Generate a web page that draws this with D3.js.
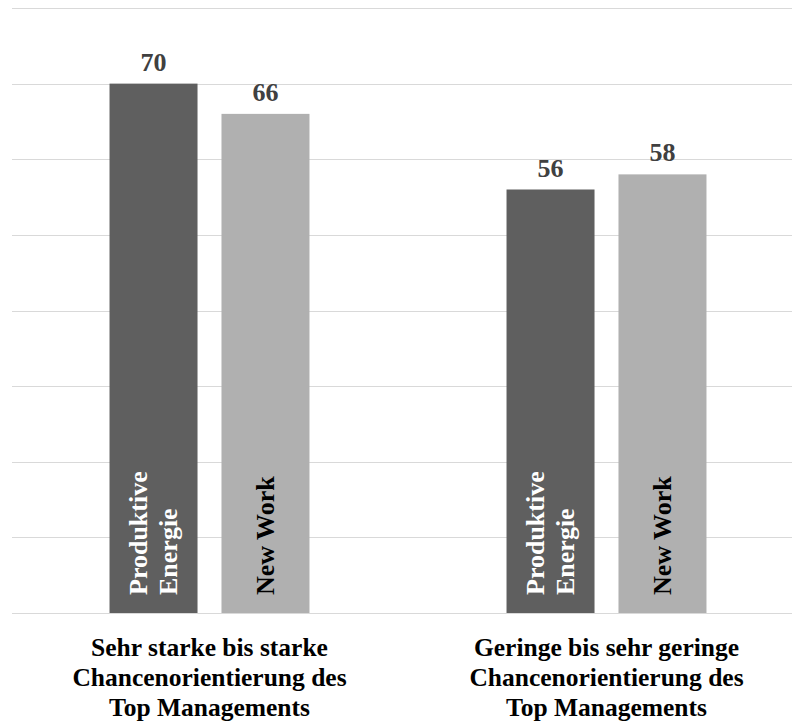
<!DOCTYPE html>
<html>
<head>
<meta charset="utf-8">
<title>Chancenorientierung</title>
<script src="https://cdn.jsdelivr.net/npm/d3@7"></script>
<style>
body { margin: 0; background: #fff; }
</style>
</head>
<body>
<svg id="chart" width="792" height="722"></svg>
<script>
// data
var categories = [
  ['Sehr starke bis starke', 'Chancenorientierung des', 'Top Managements'],
  ['Geringe bis sehr geringe', 'Chancenorientierung des', 'Top Managements']
];
var seriesNames = ['Produktive Energie', 'New Work'];
var seriesLabels = [['Produktive', 'Energie'], ['New Work']];
var produktiveEnergie = [70, 56];
var newWork = [66, 58];
var yTicks = [0, 10, 20, 30, 40, 50, 60, 70, 80];

var seriesValues = [produktiveEnergie, newWork];
var colors = ['#5f5f5f', '#b0b0b0'];
var innerColors = ['#ffffff', '#000000'];
var FONT = '"Liberation Serif", "Times New Roman", Tinos, serif';

var svg = d3.select('#chart');

var x0 = d3.scaleBand().domain(d3.range(categories.length)).range([11, 805]);
var x1 = d3.scaleBand().domain(d3.range(seriesNames.length))
  .range([0, x0.bandwidth()]).paddingInner(0.214).paddingOuter(0.88);
var y = d3.scaleLinear().domain([0, 80]).range([613, 8]);

// gridlines
svg.append('g').selectAll('line').data(yTicks).enter().append('line')
  .attr('x1', 12).attr('x2', 792)
  .attr('y1', function(d) { return Math.round(y(d)) + 0.5; })
  .attr('y2', function(d) { return Math.round(y(d)) + 0.5; })
  .style('stroke', '#d9d9d9').style('stroke-width', 1);

var groups = svg.append('g').selectAll('g').data(categories).enter().append('g')
  .attr('transform', function(d, i) { return 'translate(' + x0(i) + ',0)'; });

groups.each(function(cat, ci) {
  var g = d3.select(this);
  seriesValues.forEach(function(vals, si) {
    var v = vals[ci];
    var bx = x1(si), bw = x1.bandwidth();
    g.append('rect')
      .attr('x', bx).attr('width', bw)
      .attr('y', y(v)).attr('height', y(0) - y(v))
      .style('fill', colors[si]);

    g.append('text')
      .attr('x', bx + bw / 2).attr('y', y(v) - 13)
      .attr('text-anchor', 'middle')
      .style('font-family', FONT).style('font-weight', 'bold')
      .style('font-size', '26px').style('fill', '#404040')
      .text(v);

    // label inside bar, rotated
    var lines = seriesLabels[si];
    var cx = bx + bw / 2;
    var t = g.append('text')
      .attr('transform', 'translate(' + cx + ',' + (y(0) - 18) + ') rotate(-90)')
      .attr('text-anchor', 'start')
      .style('font-family', FONT).style('font-weight', 'bold')
      .style('font-size', '26px').style('fill', innerColors[si]);
    lines.forEach(function(l, li) {
      var off = (li - (lines.length - 1) / 2) * 30 + 8.6;
      t.append('tspan').attr('x', 0).attr('y', off).text(l);
    });
  });

  // category label
  var ct = g.append('text')
    .attr('text-anchor', 'middle')
    .style('font-family', FONT).style('font-weight', 'bold')
    .style('font-size', '25.5px').style('fill', '#000');
  cat.forEach(function(l, li) {
    ct.append('tspan').attr('x', x0.bandwidth() / 2).attr('y', 656 + li * 30).text(l);
  });
});
</script>
</body>
</html>
